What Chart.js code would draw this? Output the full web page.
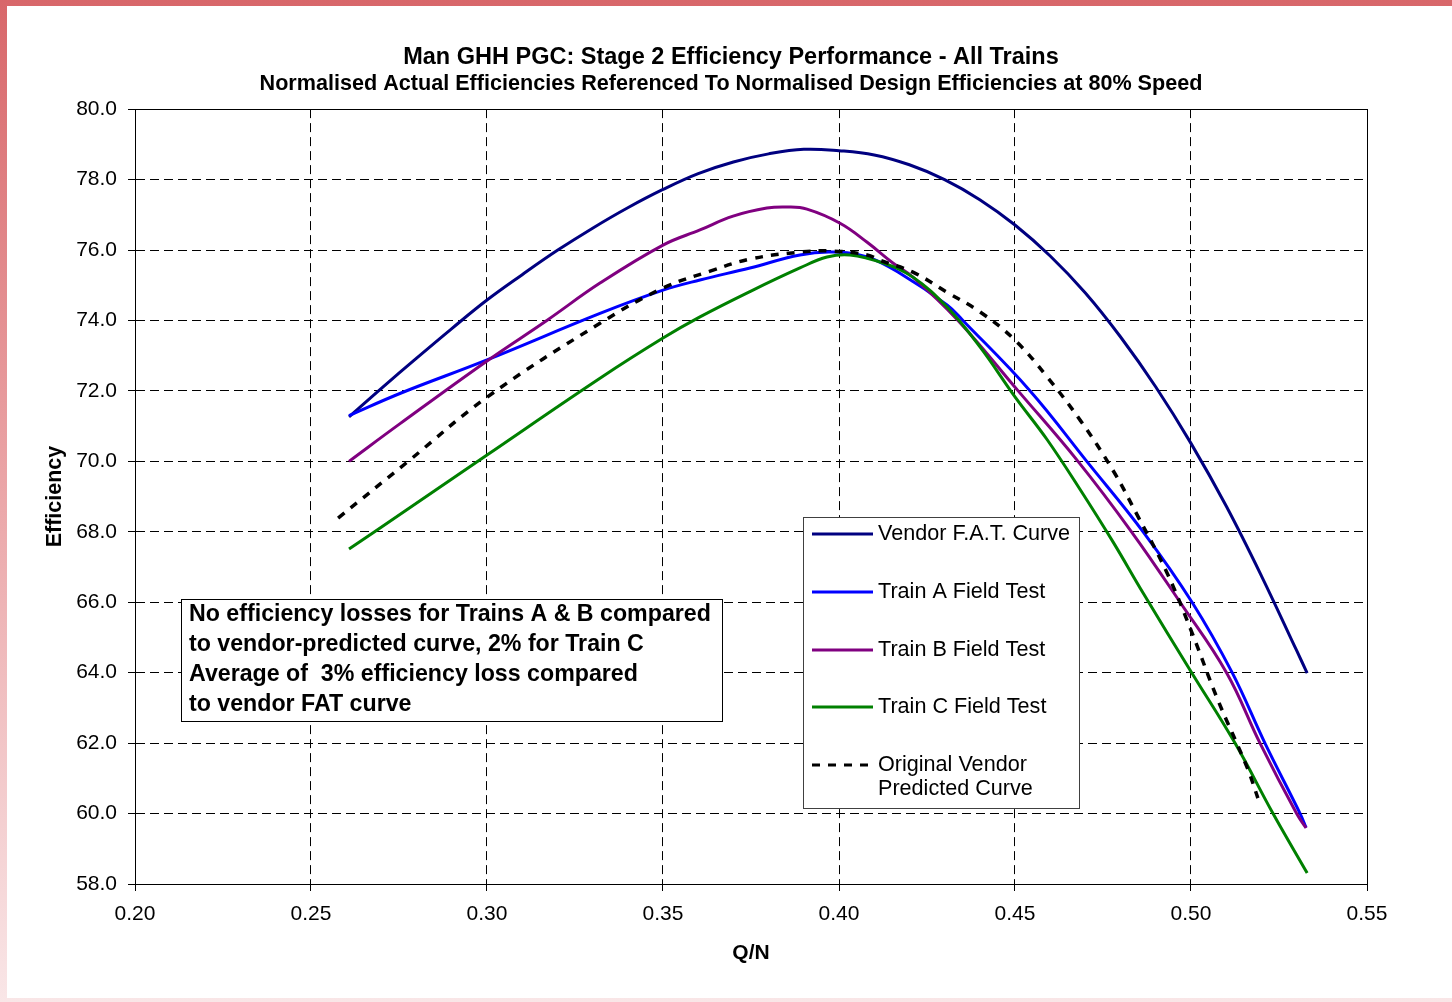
<!DOCTYPE html>
<html>
<head>
<meta charset="utf-8">
<script src="https://cdn.jsdelivr.net/npm/chart.js@4.4.1/dist/chart.umd.min.js"></script>
<style>
  html, body { margin: 0; padding: 0; }
  body {
    width: 1452px; height: 1002px; overflow: hidden; position: relative;
    background: linear-gradient(to bottom, #d8676a 0%, #eba7a9 50%, #f9e6e7 100%);
  }
  #wrap { position: absolute; left: 7px; top: 6px; width: 1445px; height: 992px; background: #fff; }
</style>
</head>
<body>
<div id="wrap"><canvas id="effChart" width="1445" height="992"></canvas></div>
<script>
// values
const xTicks = [0.20, 0.25, 0.30, 0.35, 0.40, 0.45, 0.50, 0.55];
const yTicks = [58, 60, 62, 64, 66, 68, 70, 72, 74, 76, 78, 80];

const vendorQ   = [0.2608, 0.27, 0.28, 0.29, 0.30, 0.31, 0.32, 0.33, 0.34, 0.35, 0.36, 0.37, 0.38, 0.39, 0.40, 0.41, 0.42, 0.43, 0.44, 0.45, 0.46, 0.47, 0.48, 0.49, 0.50, 0.51, 0.52, 0.53, 0.533];
const vendorEff = [71.26, 72.07, 72.93, 73.77, 74.58, 75.30, 75.99, 76.62, 77.20, 77.72, 78.17, 78.50, 78.73, 78.86, 78.82, 78.70, 78.42, 78.00, 77.43, 76.71, 75.83, 74.78, 73.53, 72.11, 70.51, 68.73, 66.75, 64.63, 63.99];

const trainAQ   = [0.2608, 0.2756, 0.300, 0.3321, 0.350, 0.3605, 0.3747, 0.3889, 0.3983, 0.408, 0.4173, 0.4307, 0.4352, 0.4543, 0.4704, 0.4864, 0.5003, 0.5117, 0.5210, 0.5310, 0.5327];
const trainAEff = [71.30, 71.94, 72.88, 74.20, 74.86, 75.15, 75.49, 75.86, 75.94, 75.80, 75.34, 74.44, 74.00, 72.00, 70.00, 68.00, 66.00, 64.00, 62.00, 60.00, 59.60];

const trainBQ   = [0.2608, 0.2753, 0.300, 0.317, 0.3321, 0.350, 0.3605, 0.3699, 0.3795, 0.3852, 0.3909, 0.4003, 0.408, 0.4153, 0.421, 0.4338, 0.4509, 0.4679, 0.4831, 0.4969, 0.5101, 0.5196, 0.5300, 0.5327];
const trainBEff = [70.00, 71.07, 72.85, 74.00, 75.06, 76.14, 76.57, 76.96, 77.19, 77.22, 77.16, 76.76, 76.22, 75.63, 75.23, 74.00, 72.00, 70.00, 68.00, 66.00, 64.00, 62.00, 60.00, 59.59];

const trainCQ   = [0.2608, 0.2688, 0.300, 0.3321, 0.350, 0.3605, 0.3747, 0.3889, 0.3966, 0.4031, 0.4125, 0.421, 0.4307, 0.4401, 0.450, 0.4591, 0.4685, 0.4778, 0.4864, 0.5002, 0.5125, 0.5233, 0.5330];
const trainCEff = [67.51, 68.05, 70.18, 72.36, 73.50, 74.10, 74.82, 75.49, 75.80, 75.86, 75.63, 75.23, 74.38, 73.24, 71.83, 70.62, 69.20, 67.72, 66.26, 64.00, 62.00, 60.00, 58.31];

const originalQ   = [0.2577, 0.2776, 0.300, 0.3321, 0.350, 0.3634, 0.3747, 0.3889, 0.3983, 0.408, 0.4116, 0.421, 0.4307, 0.4401, 0.450, 0.4591, 0.4685, 0.4778, 0.4847, 0.4932, 0.5003, 0.5074, 0.5159, 0.5190];
const originalEff = [68.39, 70.00, 71.82, 73.92, 74.92, 75.40, 75.74, 75.94, 75.97, 75.86, 75.71, 75.37, 74.80, 74.24, 73.44, 72.40, 71.17, 69.75, 68.48, 66.83, 65.13, 63.28, 61.32, 60.44];

const noteLines = [
  'No efficiency losses for Trains A & B compared',
  'to vendor-predicted curve, 2% for Train C',
  'Average of  3% efficiency loss compared',
  'to vendor FAT curve'
];

const FONT = '"Liberation Sans", Arial, Helvetica, sans-serif';
const pts = (xs, ys) => xs.map((x, i) => ({ x: x, y: ys[i] }));

// solid frame round the plot area
const framePlugin = {
  id: 'frame',
  beforeDatasetsDraw(chart) {
    const { ctx, chartArea: a } = chart;
    ctx.save();
    ctx.strokeStyle = '#000';
    ctx.lineWidth = 1;
    ctx.strokeRect(Math.round(a.left) + 0.5, Math.round(a.top) + 0.5,
                   Math.round(a.right - a.left), Math.round(a.bottom - a.top));
    ctx.restore();
  }
};

// legend box inside the plot, like the Excel one
const legendBox = {
  id: 'legendBox',
  afterDatasetsDraw(chart) {
    const ctx = chart.ctx;
    ctx.save();
    ctx.fillStyle = '#fff';
    ctx.fillRect(796, 511, 276, 291);
    ctx.strokeStyle = '#404040';
    ctx.lineWidth = 1;
    ctx.strokeRect(796.5, 511.5, 276, 291);
    const rows = [528, 586, 644, 701, 759];
    ctx.font = '21.6px ' + FONT;
    ctx.textBaseline = 'middle';
    chart.data.datasets.forEach((ds, i) => {
      const y = rows[i];
      ctx.strokeStyle = ds.borderColor;
      ctx.lineWidth = 3;
      ctx.setLineDash(ds.borderDash || []);
      ctx.beginPath();
      ctx.moveTo(805, y);
      ctx.lineTo(866, y);
      ctx.stroke();
      ctx.setLineDash([]);
      ctx.fillStyle = '#000';
      ds.label.split('\n').forEach((t, k) => ctx.fillText(t, 871, y + k * 24));
    });
    ctx.restore();
  }
};

// text box with the conclusion
const noteBox = {
  id: 'noteBox',
  afterDatasetsDraw(chart) {
    const ctx = chart.ctx;
    ctx.save();
    ctx.fillStyle = '#fff';
    ctx.fillRect(174, 593, 541, 122);
    ctx.strokeStyle = '#000';
    ctx.lineWidth = 1;
    ctx.strokeRect(174.5, 593.5, 541, 122);
    ctx.fillStyle = '#000';
    ctx.font = 'bold 23.2px ' + FONT;
    ctx.textBaseline = 'middle';
    noteLines.forEach((t, i) => ctx.fillText(t, 182, 609 + i * 30));
    ctx.restore();
  }
};

const line = (label, data, color, order, extra) => Object.assign({
  label: label, data: data, borderColor: color, backgroundColor: color,
  borderWidth: 3, pointRadius: 0, fill: false, order: order, tension: 0.4
}, extra || {});

new Chart(document.getElementById('effChart'), {
  type: 'line',
  data: {
    datasets: [
      line('Vendor F.A.T. Curve', pts(vendorQ, vendorEff), '#000080', 5),
      line('Train A Field Test', pts(trainAQ, trainAEff), '#0000ff', 4),
      line('Train B Field Test', pts(trainBQ, trainBEff), '#800080', 3),
      line('Train C Field Test', pts(trainCQ, trainCEff), '#008000', 2),
      line('Original Vendor\nPredicted Curve', pts(originalQ, originalEff), '#000000', 1,
           { borderDash: [8, 8], borderWidth: 3.5 })
    ]
  },
  plugins: [framePlugin, legendBox, noteBox],
  options: {
    responsive: false,
    animation: false,
    layout: { padding: { left: 3, right: 0, top: 0, bottom: 24 } },
    plugins: {
      legend: { display: false },
      tooltip: { enabled: false },
      title: {
        display: true,
        text: 'Man GHH PGC: Stage 2 Efficiency Performance - All Trains',
        color: '#000',
        font: { family: FONT, size: 23.5, weight: 'bold', lineHeight: 1.2 },
        padding: { top: 37, bottom: 0 }
      },
      subtitle: {
        display: true,
        text: 'Normalised Actual Efficiencies Referenced To Normalised Design Efficiencies at 80% Speed',
        color: '#000',
        font: { family: FONT, size: 21.6, weight: 'bold', lineHeight: 1.2 },
        padding: { top: 0, bottom: 12 }
      }
    },
    scales: {
      x: {
        type: 'linear',
        min: 0.2, max: 0.55,
        afterBuildTicks: s => { s.ticks = xTicks.map(v => ({ value: v })); },
        afterFit: s => { s.height = 90; },
        ticks: { color: '#000', padding: 11, font: { family: FONT, size: 21 }, callback: v => v.toFixed(2) },
        grid: { color: '#000', lineWidth: 1, tickLength: 7, tickColor: '#000', tickBorderDash: [] },
        border: { display: true, color: '#000', width: 1, dash: [9, 5] },
        title: { display: true, text: 'Q/N', color: '#000', font: { family: FONT, size: 21, weight: 'bold', lineHeight: 1.2 }, padding: { top: 0, bottom: 8 } }
      },
      y: {
        type: 'linear',
        min: 58, max: 80,
        afterBuildTicks: s => { s.ticks = yTicks.map(v => ({ value: v })); },
        afterFit: s => { s.width = 125; },
        ticks: { color: '#000', padding: 11, font: { family: FONT, size: 21 }, callback: v => v.toFixed(1) },
        grid: { color: '#000', lineWidth: 1, tickLength: 7, tickColor: '#000', tickBorderDash: [] },
        border: { display: true, color: '#000', width: 1, dash: [9, 5] },
        title: { display: true, text: 'Efficiency', color: '#000', font: { family: FONT, size: 21.5, weight: 'bold', lineHeight: 1.2 }, padding: { top: 32, bottom: 0 } }
      },
      // empty right-hand gutter so the plot stops where the reference plot stops
      gutter: {
        type: 'linear',
        position: 'right',
        display: true,
        afterFit: s => { s.width = 85; },
        ticks: { display: false },
        grid: { display: false, drawTicks: false },
        border: { display: false }
      }
    }
  }
});
</script>
</body>
</html>
